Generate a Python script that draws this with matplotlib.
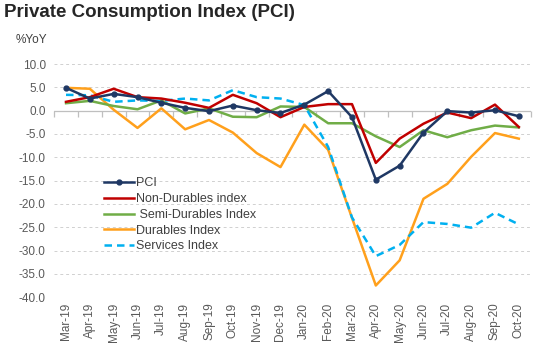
import numpy as np
import matplotlib.pyplot as plt

plt.rcParams['font.family'] = ['Liberation Sans', 'DejaVu Sans']

months = ['Mar-19', 'Apr-19', 'May-19', 'Jun-19', 'Jul-19', 'Aug-19', 'Sep-19',
          'Oct-19', 'Nov-19', 'Dec-19', 'Jan-20', 'Feb-20', 'Mar-20', 'Apr-20',
          'May-20', 'Jun-20', 'Jul-20', 'Aug-20', 'Sep-20', 'Oct-20']

pci = [4.9, 2.6, 3.6, 2.9, 1.7, 0.6, -0.1, 1.1, 0.1, -0.5, 1.3, 4.2,
       -1.4, -14.8, -11.8, -4.7, -0.1, -0.4, 0.1, -1.2]
non_durables = [1.9, 2.9, 4.7, 2.9, 2.6, 1.7, 0.6, 3.4, 1.6, -1.4, 0.8, 1.4,
                1.4, -11.2, -6.0, -2.8, -0.4, -1.6, 1.3, -3.5]
semi_durables = [1.6, 2.1, 1.0, 0.3, 2.2, -0.6, 0.5, -1.3, -1.4, 0.9, 0.8, -2.7,
                 -2.7, -5.5, -7.8, -4.2, -5.7, -4.2, -3.2, -3.6]
durables = [4.9, 4.7, 0.2, -3.7, 0.5, -4.0, -2.0, -4.7, -9.1, -12.1, -3.0, -8.4,
            -23.0, -37.5, -32.1, -18.9, -15.7, -9.9, -4.8, -6.0]
services = [3.4, 3.3, 1.9, 2.2, 2.1, 2.6, 2.2, 4.4, 2.9, 2.6, 1.2, -7.8,
            -22.9, -31.2, -28.8, -23.9, -24.3, -25.1, -21.9, -24.4]

x = np.arange(len(months))

fig = plt.figure(figsize=(5.41, 3.5), dpi=100)
ax = fig.add_axes([0.100, 0.151, 0.881, 0.666])

ax.plot(x, pci, color='#1F3864', lw=1.8, marker='o', ms=3.5, label='PCI', zorder=6)
ax.plot(x, non_durables, color='#C00000', lw=1.8, label='Non-Durables index', zorder=5)
ax.plot(x, semi_durables, color='#70AD47', lw=1.8, label=' Semi-Durables Index', zorder=4)
ax.plot(x, durables, color='#FFA01C', lw=1.8, label='Durables Index', zorder=3)
ax.plot(x, services, color='#00B0F0', lw=1.8, ls=(0, (3, 2)), label='Services Index', zorder=4)

ax.set_xlim(-0.5, len(months) - 0.5)
ax.set_ylim(-40, 10)
ax.set_yticks(np.arange(-40, 11, 5))
ax.set_yticklabels([f'{v:.1f}' for v in np.arange(-40, 11, 5)])
ax.yaxis.grid(True, color='#D0D0D0', ls=(0, (3, 3)), lw=0.7)
ax.set_axisbelow(True)

for s in ax.spines.values():
    s.set_visible(False)
ax.tick_params(axis='y', length=0, labelsize=8.5, labelcolor='#595959', pad=6)
ax.set_xticks(x)
ax.set_xticklabels(months, rotation=90)
ax.tick_params(axis='x', length=0, labelsize=8.5, labelcolor='#595959', pad=4)

# zero line with category tick marks
ax.axhline(0, color='#BFBFBF', lw=0.9, zorder=1)
sec = ax.secondary_xaxis(0, transform=ax.transData)
sec.set_xticks(np.arange(-0.5, len(months), 1.0))
sec.set_xticklabels([])
sec.tick_params(length=4, color='#BFBFBF', width=0.9, direction='out')
sec.spines['bottom'].set_visible(False)

ax.legend(loc='upper left', bbox_to_anchor=(0.095, 0.535), frameon=False,
          fontsize=9, handlelength=2.4, handletextpad=0.1, labelspacing=0.3,
          borderaxespad=0, labelcolor='#404040')

fig.text(0.008, 0.965, 'Private Consumption Index (PCI)', fontsize=13.5,
         fontweight='bold', color='#262626', va='center')
fig.text(0.028, 0.885, '%YoY', fontsize=8.5, color='#404040', va='center')

fig.savefig('out.png', dpi=100)
